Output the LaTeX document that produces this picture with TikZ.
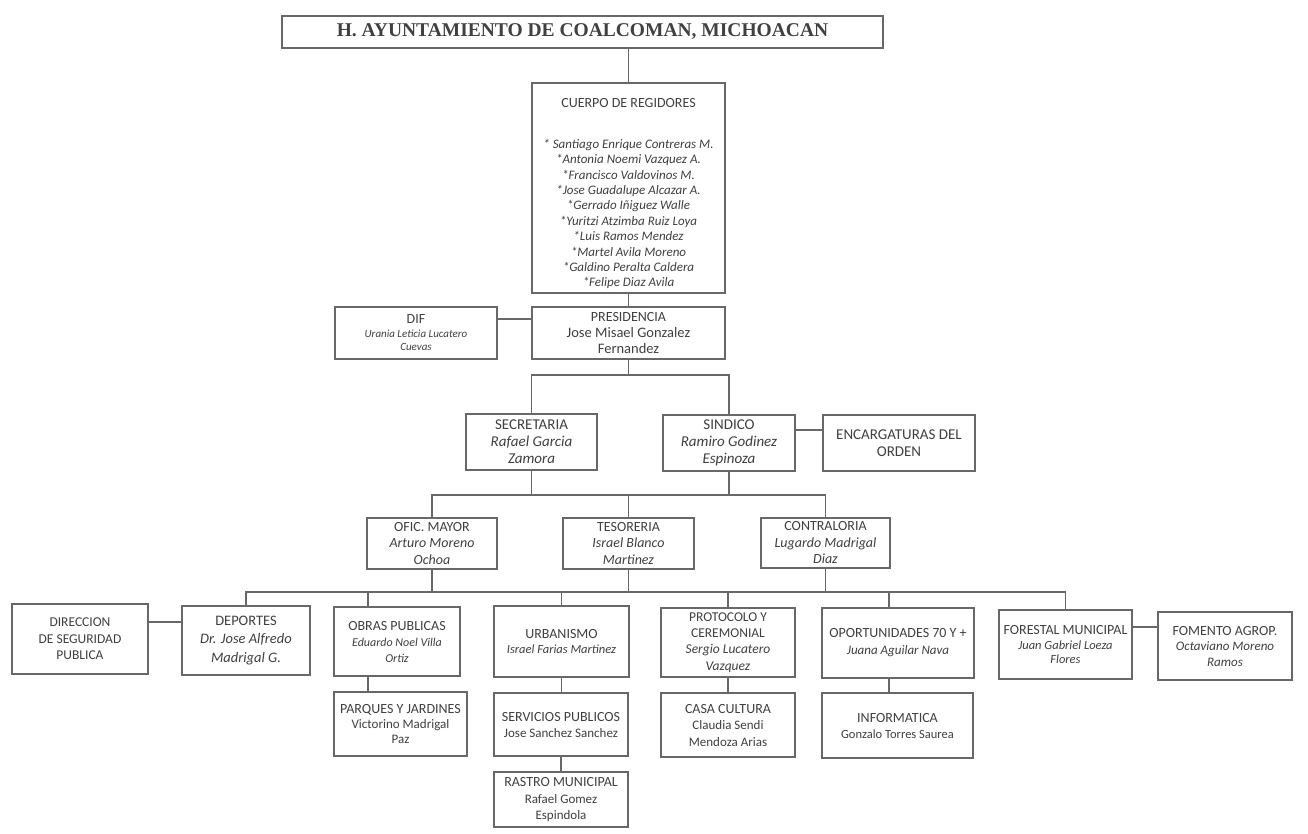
\documentclass[tikz,border=0pt]{standalone}
\usepackage{fontspec}
\setmainfont{Carlito}
\newfontfamily\ttlfont{Liberation Serif}
\definecolor{ln}{HTML}{686868}
\definecolor{tx}{HTML}{404040}
\newcommand\mybox[7]{\node[box,#6,minimum width={(#4)-(#2)},minimum height={(#5)-(#3)}] (#1) at ({((#2)+(#4))/2},{((#3)+(#5))/2}) {#7};}
\newcommand\hdr[1]{{\fontsize{14}{16.5}\selectfont #1}}
\newcommand\nm[1]{{\itshape #1}}
\begin{document}
\begin{tikzpicture}[x=1pt,y=-1pt,
  box/.style={draw=ln,line width=1.4pt,fill=white,text=tx,align=center,inner sep=0pt,font=\fontsize{14}{16.5}\selectfont},
  conn/.style={draw=ln,line width=1.4pt}]
\useasboundingbox[fill=white] (0,0) rectangle (1308,834);
% level coordinates
\coordinate (L2) at (0,375);
\coordinate (L3) at (0,495);
\coordinate (L4) at (0,592);
\coordinate (yd) at (0,319);
\coordinate (ye) at (0,430);
\coordinate (yr) at (0,622);
\coordinate (yf) at (0,627);
\coordinate (xo) at (368,0);
\coordinate (xp) at (889,0);
% boxes
\mybox{title}{282}{16}{883}{48}{font=\ttlfont\bfseries\fontsize{19.5}{22}\selectfont}{H. AYUNTAMIENTO DE COALCOMAN, MICHOACAN}
\mybox{reg}{532}{83}{725}{293}{}{}
\node[text=tx,align=center,font=\fontsize{13}{15.4}\selectfont] (regtxt) at (628.5,194) {\hdr{CUERPO DE REGIDORES}\\[25pt]
\nm{* Santiago Enrique Contreras M.}\\
\nm{*Antonia Noemi Vazquez A.}\\
\nm{*Francisco Valdovinos M.}\\
\nm{*Jose Guadalupe Alcazar A.}\\
\nm{*Gerrado Iñiguez Walle}\\
\nm{*Yuritzi Atzimba Ruiz Loya}\\
\nm{*Luis Ramos Mendez}\\
\nm{*Martel Avila Moreno}\\
\nm{*Galdino Peralta Caldera}\\
\nm{*Felipe Diaz Avila}};
\mybox{pres}{532}{307}{725}{359}{font=\fontsize{14.5}{16}\selectfont}{\hdr{PRESIDENCIA}\\Jose Misael Gonzalez\\Fernandez}
\mybox{dif}{335}{307}{497}{359}{font=\fontsize{11}{13.5}\selectfont}{\hdr{DIF}\\\nm{Urania Leticia Lucatero}\\\nm{Cuevas}}
\mybox{sec}{466}{414}{597}{470}{font=\fontsize{15}{17}\selectfont}{SECRETARIA\\\nm{Rafael Garcia}\\\nm{Zamora}}
\mybox{sin}{663}{415}{795}{471}{font=\fontsize{15}{17}\selectfont}{SINDICO\\\nm{Ramiro Godinez}\\\nm{Espinoza}}
\mybox{enc}{823}{415}{975}{471}{font=\fontsize{15}{16.5}\selectfont}{ENCARGATURAS DEL\\ORDEN}
\mybox{ofi}{367}{518}{497}{569}{font=\fontsize{14}{16.5}\selectfont}{OFIC. MAYOR\\\nm{Arturo Moreno}\\\nm{Ochoa}}
\mybox{tes}{563}{518}{694}{569}{font=\fontsize{14}{16.5}\selectfont}{TESORERIA\\\nm{Israel Blanco}\\\nm{Martinez}}
\mybox{con}{761}{518}{890}{568}{font=\fontsize{14}{16.5}\selectfont}{CONTRALORIA\\\nm{Lugardo Madrigal}\\\nm{Diaz}}
\mybox{dir}{12}{604}{148}{674}{font=\fontsize{13.5}{16.5}\selectfont}{DIRECCION\\DE SEGURIDAD\\PUBLICA}
\mybox{dep}{182}{606}{310}{675}{font=\fontsize{14.5}{18.5}\selectfont}{DEPORTES\\\nm{Dr. Jose Alfredo}\\\nm{Madrigal G.}}
\mybox{obr}{334}{607}{460}{676}{font=\fontsize{12}{16}\selectfont}{\hdr{OBRAS PUBLICAS}\\\nm{Eduardo Noel Villa}\\\nm{Ortiz}}
\mybox{urb}{494}{606}{629}{677}{font=\fontsize{12.5}{15.5}\selectfont}{\hdr{URBANISMO}\\\nm{Israel Farias Martinez}}
\mybox{pro}{661}{608}{795}{677}{font=\fontsize{13.5}{16.3}\selectfont}{PROTOCOLO Y\\CEREMONIAL\\\nm{Sergio Lucatero}\\\nm{Vazquez}}
\mybox{opo}{822}{608}{974}{678}{font=\fontsize{13}{17}\selectfont}{\hdr{OPORTUNIDADES 70 Y +}\\\nm{Juana Aguilar Nava}}
\mybox{for}{999}{610}{1132}{679}{font=\fontsize{12.5}{14.5}\selectfont}{\hdr{FORESTAL MUNICIPAL}\\\nm{Juan Gabriel Loeza}\\\nm{Flores}}
\mybox{fom}{1158}{612}{1292}{680}{font=\fontsize{13}{15.5}\selectfont}{\hdr{FOMENTO AGROP.}\\\nm{Octaviano Moreno}\\\nm{Ramos}}
\mybox{par}{334}{692}{467}{756}{font=\fontsize{13}{15}\selectfont}{\hdr{PARQUES Y JARDINES}\\Victorino Madrigal\\Paz}
\mybox{ser}{494}{693}{628}{756}{font=\fontsize{13}{16}\selectfont}{\hdr{SERVICIOS PUBLICOS}\\Jose Sanchez Sanchez}
\mybox{ras}{494}{772}{628}{827}{font=\fontsize{13}{16.5}\selectfont}{\hdr{RASTRO MUNICIPAL}\\Rafael Gomez\\Espindola}
\mybox{cas}{661}{693}{795}{757}{font=\fontsize{13}{16.5}\selectfont}{\hdr{CASA CULTURA}\\Claudia Sendi\\Mendoza Arias}
\mybox{inf}{822}{693}{973}{758}{font=\fontsize{12.5}{16}\selectfont}{\hdr{INFORMATICA}\\Gonzalo Torres Saurea}
% connectors
\draw[conn] (title.south -| reg.north) -- (reg.north);
\draw[conn] (reg.south) -- (pres.north);
\draw[conn] (pres.south) -- (pres.south |- L2);
\draw[conn] (sec.north) -- (sec.north |- L2) -- (sin.north |- L2) -- (sin.north);
\draw[conn] (dif.east |- yd) -- (pres.west |- yd);
\draw[conn] (sin.east |- ye) -- (enc.west |- ye);
\draw[conn] (sec.south) -- (sec.south |- L3);
\draw[conn] (sin.south) -- (sin.south |- L3);
\draw[conn] (ofi.north) -- (ofi.north |- L3) -- (con.north |- L3) -- (con.north);
\draw[conn] (tes.north) -- (tes.north |- L3);
\draw[conn] (ofi.south) -- (ofi.south |- L4);
\draw[conn] (tes.south) -- (tes.south |- L4);
\draw[conn] (con.south) -- (con.south |- L4);
\draw[conn] (dep.north) -- (dep.north |- L4) -- (for.north |- L4) -- (for.north);
\draw[conn] (obr.north -| xo) -- (xo |- L4);
\draw[conn] (urb.north) -- (urb.north |- L4);
\draw[conn] (pro.north) -- (pro.north |- L4);
\draw[conn] (opo.north -| xp) -- (xp |- L4);
\draw[conn] (dir.east |- yr) -- (dep.west |- yr);
\draw[conn] (for.east |- yf) -- (fom.west |- yf);
\draw[conn] (obr.south -| xo) -- (par.north -| xo);
\draw[conn] (urb.south) -- (urb.south |- ser.north);
\draw[conn] (ser.south) -- (ser.south |- ras.north);
\draw[conn] (pro.south) -- (pro.south |- cas.north);
\draw[conn] (opo.south -| xp) -- (inf.north -| xp);
\end{tikzpicture}
\end{document}
